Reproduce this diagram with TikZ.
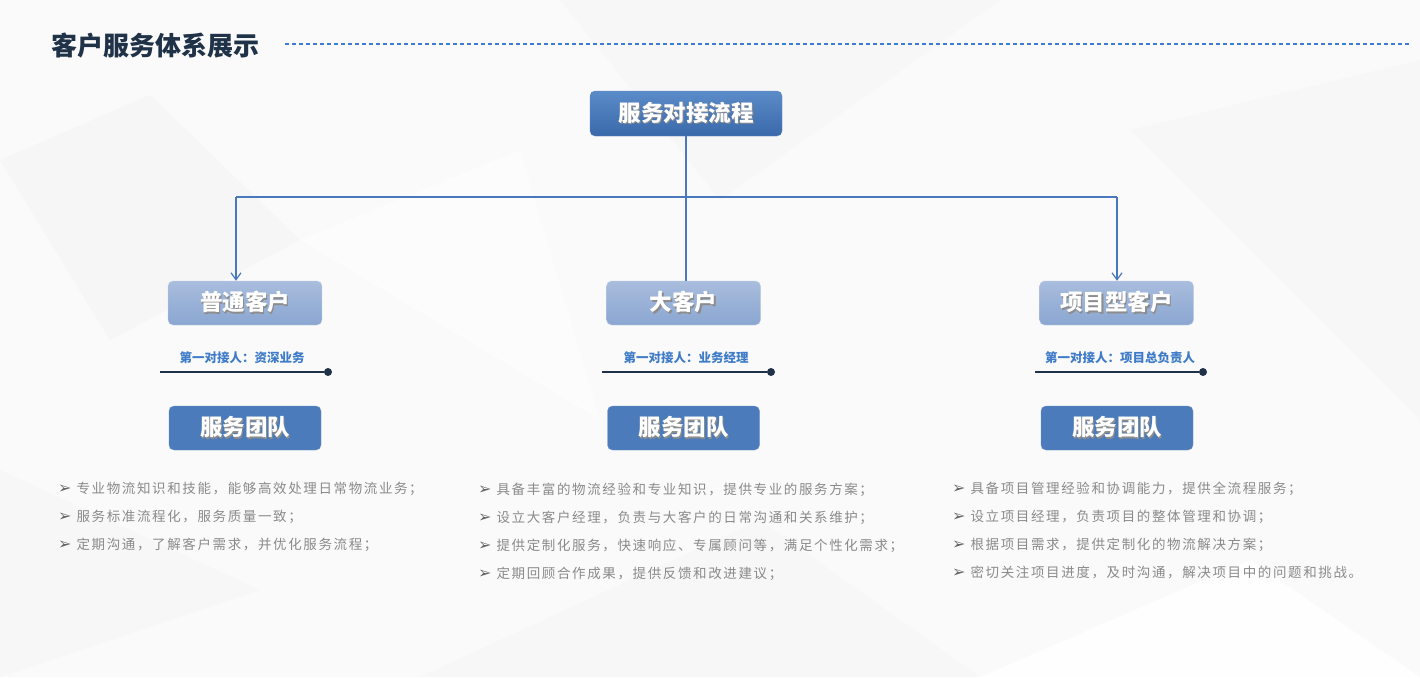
\documentclass[tikz,border=0pt]{standalone}
\usepackage{fontspec}
\usetikzlibrary{arrows.meta}
\setmainfont{Noto Sans CJK SC}
\newfontfamily\symfont{DejaVu Sans}
\definecolor{linkblue}{HTML}{4A78BD}
\definecolor{dashblue}{HTML}{3F7BD6}
\definecolor{darkblue}{HTML}{3A69AA}
\definecolor{lightblue}{HTML}{5C8BC9}
\definecolor{paleblue}{HTML}{A9BDDD}
\definecolor{paleblue2}{HTML}{8AA6D1}
\definecolor{teamblue}{HTML}{4B7BBA}
\definecolor{navy}{HTML}{1F3248}
\definecolor{labelblue}{HTML}{3E7BC8}
\definecolor{bulletgray}{HTML}{8A8A8A}
\newcommand{\shadowtxt}[1]{\makebox[0pt][l]{\hspace{1.3pt}\raisebox{-1.3pt}{\color{black!45}#1}}#1}
\newcommand{\tip}{{\symfont\fontsize{16}{16}\selectfont\color{black!60}➢}\hspace{5pt}}
\begin{document}
\begin{tikzpicture}[x=1pt,y=-1pt,>={Straight Barb[length=7pt,width=10pt]}]
	\tikzstyle{headbox}=[rectangle,rounded corners=5pt,draw=darkblue!80,top color=lightblue,bottom color=darkblue,minimum width=192pt,minimum height=45pt,text=white,font=\fontsize{22.5}{22.5}\selectfont\bfseries]
	\tikzstyle{clientbox}=[rectangle,rounded corners=5pt,draw=paleblue!70,top color=paleblue,bottom color=paleblue2,minimum width=154pt,minimum height=44pt,text=white,font=\fontsize{22.5}{22.5}\selectfont\bfseries]
	\tikzstyle{teambox}=[rectangle,rounded corners=5pt,draw=teamblue!80,fill=teamblue,minimum width=152pt,minimum height=44pt,text=white,font=\fontsize{22.5}{22.5}\selectfont\bfseries]
	\tikzstyle{contact}=[text=labelblue,font=\fontsize{12.5}{12.5}\selectfont\bfseries]
	\tikzstyle{dot}=[circle,fill=navy,inner sep=0pt,minimum size=8pt]
	\tikzstyle{bullets}=[anchor=west,align=left,inner sep=0pt,text=bulletgray,font=\fontsize{13.5}{28}\selectfont\addfontfeature{LetterSpace=12}]
	\tikzstyle{edge}=[draw=linkblue,line width=1.2pt]

	% background
	\fill[black!2] (0,0) rectangle (1420,677);
	\fill[black!3.5] (0,160) -- (150,95) -- (300,240) -- (110,340) -- cycle;
	\fill[black!3] (560,0) -- (1000,0) -- (720,200) -- cycle;
	\fill[black!3] (1130,130) -- (1420,60) -- (1420,420) -- cycle;
	\fill[black!3] (0,470) -- (260,590) -- (0,677) -- cycle;
	\fill[black!3] (420,677) -- (760,520) -- (980,677) -- cycle;
	\fill[black!0.5] (980,677) -- (1250,560) -- (1420,677) -- cycle;
	\fill[black!1] (300,240) -- (520,150) -- (600,420) -- cycle;

	% title
	\node[anchor=west,inner sep=0pt,text=navy,font=\fontsize{26}{26}\selectfont\bfseries] (title) at (51,46) {客户服务体系展示};
	\coordinate (dashend) at (1410,44);
	\draw[dashblue,line width=1.2pt,dash pattern=on 4pt off 3pt] (title.east |- dashend) ++(26,0) -- (dashend);

	\node [headbox] (flow) at (686,113.5) {\shadowtxt{服务对接流程}};

	\node [clientbox] (normal) at (245,303) {\shadowtxt{普通客户}};
	\node [clientbox] (major) at (683.5,303) {\shadowtxt{大客户}};
	\node [clientbox] (project) at (1116.5,303) {\shadowtxt{项目型客户}};

	\coordinate (jl) at (236,197);
	\coordinate (jm) at (686,197);
	\coordinate (jr) at (1117,197);
	\path[edge] (flow.south) -- (jm);
	\path[edge] (jl) -- (jr);
	\path[edge,->] (jl) -- (jl |- normal.north);
	\path[edge] (jm) -- (jm |- major.north);
	\path[edge,->] (jr) -- (jr |- project.north);

	\node [contact] (c1) at (242,358) {第一对接人：资深业务};
	\node [contact] (c2) at (686,358) {第一对接人：业务经理};
	\node [contact] (c3) at (1120,358) {第一对接人：项目总负责人};
	\node [dot] (d1) at (328,372) {};
	\node [dot] (d2) at (771,372) {};
	\node [dot] (d3) at (1203,372) {};
	\coordinate (l1) at (160,372);
	\coordinate (l2) at (602,372);
	\coordinate (l3) at (1035,372);
	\draw[navy,line width=1.3pt] (l1) -- (d1);
	\draw[navy,line width=1.3pt] (l2) -- (d2);
	\draw[navy,line width=1.3pt] (l3) -- (d3);

	\node [teambox] (t1) at (245,428) {\shadowtxt{服务团队}};
	\node [teambox] (t2) at (683.5,428) {\shadowtxt{服务团队}};
	\node [teambox] (t3) at (1117,428) {\shadowtxt{服务团队}};

	\node [bullets] (b1) at (58,517) {\tip 专业物流知识和技能，能够高效处理日常物流业务；\\\tip 服务标准流程化，服务质量一致；\\\tip 定期沟通，了解客户需求，并优化服务流程；};
	\node [bullets] (b2) at (478,532) {\tip 具备丰富的物流经验和专业知识，提供专业的服务方案；\\\tip 设立大客户经理，负责与大客户的日常沟通和关系维护；\\\tip 提供定制化服务，快速响应、专属顾问等，满足个性化需求；\\\tip 定期回顾合作成果，提供反馈和改进建议；};
	\node [bullets] (b3) at (952,530) {\tip 具备项目管理经验和协调能力，提供全流程服务；\\\tip 设立项目经理，负责项目的整体管理和协调；\\\tip 根据项目需求，提供定制化的物流解决方案；\\\tip 密切关注项目进度，及时沟通，解决项目中的问题和挑战。};
\end{tikzpicture}
\end{document}
